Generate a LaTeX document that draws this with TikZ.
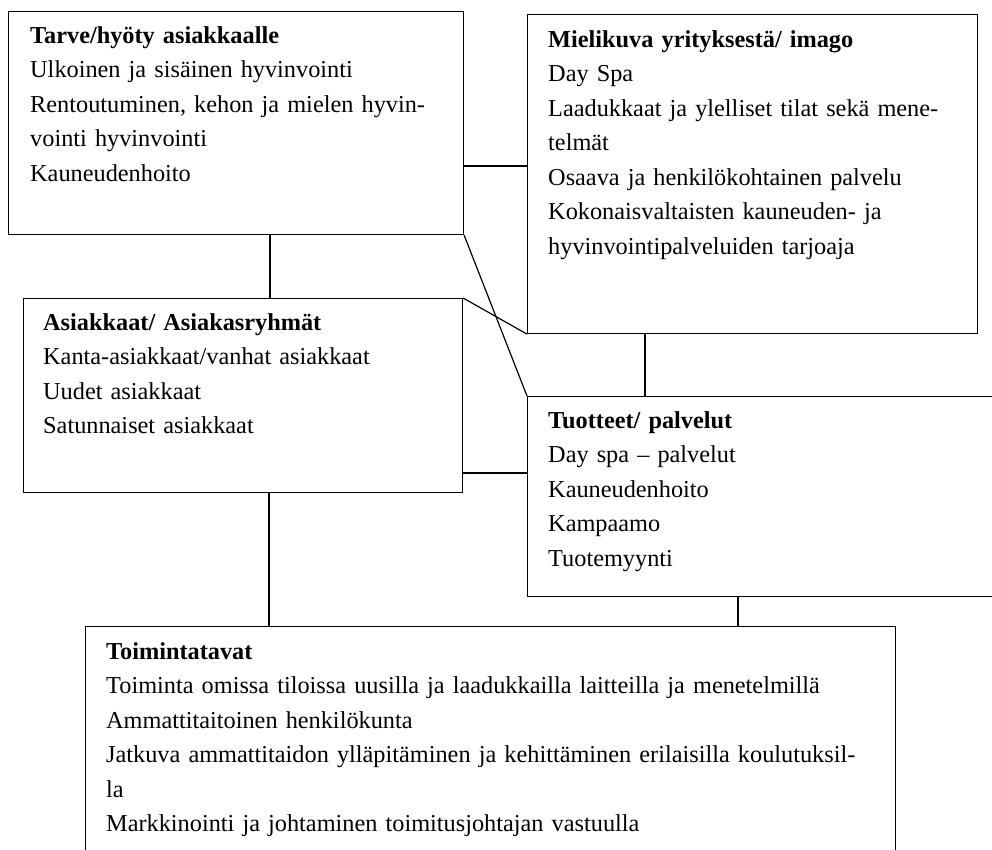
\documentclass[tikz,border=0pt]{standalone}
\usepackage{fontspec}
\setmainfont{Liberation Serif}
\begin{document}
\begin{tikzpicture}[x=1pt,y=-1pt,
  box/.style={draw=black, line width=1.1pt, rectangle, inner sep=0pt, anchor=north west},
  link/.style={draw=black, line width=1.2pt},
  txt/.style={anchor=base west, inner sep=0pt, align=left, text width=850pt,
    font=\fontsize{24.3}{34.5}\selectfont}]
\clip (0,0) rectangle (992,849);
\fill[white] (0,0) rectangle (992,849);
% boxes
\node[box, minimum width=455pt, minimum height=223pt] (b1) at (8,11) {};
\node[box, minimum width=450pt, minimum height=319pt] (b2) at (527,14) {};
\node[box, minimum width=439pt, minimum height=194pt] (b3) at (23,298) {};
\node[box, minimum width=480pt, minimum height=200pt] (b4) at (527,396) {};
\node[box, minimum width=810pt, minimum height=240pt] (b5) at (85,626) {};
% texts
\node[txt] (t1) at (30,43) {\textbf{Tarve/hyöty asiakkaalle}\\
Ulkoinen ja sisäinen hyvinvointi\\
Rentoutuminen, kehon ja mielen hyvin-\\
vointi hyvinvointi\\
Kauneudenhoito};
\node[txt] (t2) at (548,47) {\textbf{Mielikuva yrityksestä/ imago}\\
Day Spa\\
Laadukkaat ja ylelliset tilat sekä mene-\\
telmät\\
Osaava ja henkilökohtainen palvelu\\
Kokonaisvaltaisten kauneuden- ja\\
hyvinvointipalveluiden tarjoaja};
\node[txt] (t3) at (43,330) {\textbf{Asiakkaat/ Asiakasryhmät}\\
Kanta-asiakkaat/vanhat asiakkaat\\
Uudet asiakkaat\\
Satunnaiset asiakkaat};
\node[txt] (t4) at (548,428) {\textbf{Tuotteet/ palvelut}\\
Day spa – palvelut\\
Kauneudenhoito\\
Kampaamo\\
Tuotemyynti};
\node[txt] (t5) at (106,659) {\textbf{Toimintatavat}\\
Toiminta omissa tiloissa uusilla ja laadukkailla laitteilla ja menetelmillä\\
Ammattitaitoinen henkilökunta\\
Jatkuva ammattitaidon ylläpitäminen ja kehittäminen erilaisilla koulutuksil-\\
la\\
Markkinointi ja johtaminen toimitusjohtajan vastuulla};
% connector positions
\coordinate (y12) at (0,166);
\coordinate (x13) at (270,0);
\coordinate (x24) at (645,0);
\coordinate (y34) at (0,473);
\coordinate (x35) at (269,0);
\coordinate (x45) at (738,0);
% connectors
\draw[link] (b1.east |- y12) -- (b2.west |- y12);
\draw[link] (b1.south -| x13) -- (b3.north -| x13);
\draw[link] (b1.south east) -- (b4.north west);
\draw[link] (b3.north east) -- (b2.south west);
\draw[link] (b2.south -| x24) -- (b4.north -| x24);
\draw[link] (b3.east |- y34) -- (b4.west |- y34);
\draw[link] (b3.south -| x35) -- (b5.north -| x35);
\draw[link] (b4.south -| x45) -- (b5.north -| x45);
\end{tikzpicture}
\end{document}
